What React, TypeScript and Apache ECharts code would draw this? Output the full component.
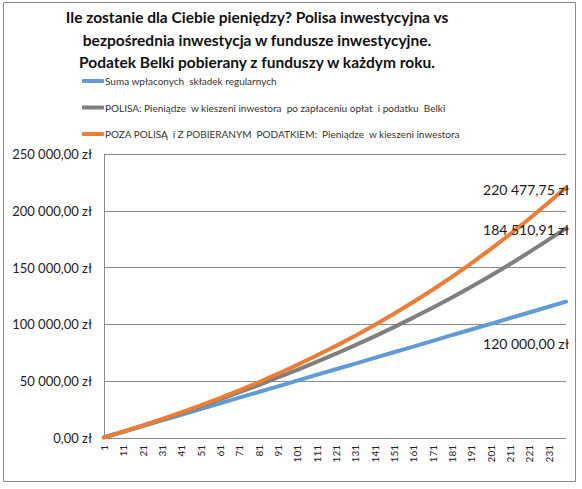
import React, { useEffect, useRef } from 'react';
import * as echarts from 'echarts';

// miesiące, w których odczytano wartości z wykresu
const months = [1, 11, 21, 31, 41, 51, 61, 71, 81, 91, 101, 111, 121, 131, 141, 151, 161, 171, 181, 191, 201, 211, 221, 231, 240];

// Suma wpłaconych składek regularnych
const paidIn = [500, 5500, 10500, 15500, 20500, 25500, 30500, 35500, 40500, 45500, 50500, 55500, 60500, 65500, 70500, 75500, 80500, 85500, 90500, 95500, 100500, 105500, 110500, 115500, 120000];

// POLISA
const policy = [500, 5600, 10800, 16300, 22000, 27900, 34000, 40400, 46600, 53300, 60000, 67000, 74200, 81700, 89500, 97600, 106000, 114700, 123700, 133100, 142900, 153000, 163600, 174600, 184510.91];

// POZA POLISĄ
const direct = [500, 5600, 11000, 16600, 22500, 28700, 35200, 42000, 49100, 56600, 64400, 72600, 81100, 90100, 99500, 109400, 119700, 130500, 141900, 153800, 166300, 179300, 193000, 207300, 220477.75];

const categories = Array.from({ length: 240 }, (_, i) => String(i + 1));

const seriesNames = [
  'Suma wpłaconych  składek regularnych',
  'POLISA: Pieniądze  w kieszeni inwestora  po zapłaceniu opłat  i podatku  Belki',
  'POZA POLISĄ  i Z POBIERANYM  PODATKIEM:  Pieniądze  w kieszeni inwestora',
];

const titleText = 'Ile zostanie dla Ciebie pieniędzy? Polisa inwestycyjna vs\nbezpośrednia inwestycja w fundusze inwestycyjne.\nPodatek Belki pobierany z funduszy w każdym roku.';

const font = 'Lato, "Open Sans", sans-serif';

function zl(v: number) {
  const [int, dec] = v.toFixed(2).split('.');
  return int.replace(/\B(?=(\d{3})+(?!\d))/g, ' ') + ',' + dec + ' zł';
}

function build(values: number[], offsetY: number) {
  return months.map((m, i) => {
    const item: any = { value: [m - 1, values[i]] };
    if (i === months.length - 1) {
      item.label = {
        show: true,
        position: 'left',
        distance: 0,
        offset: [3, offsetY],
        formatter: (p: any) => zl(p.value[1]),
        fontSize: 14,
        color: '#1a1a1a',
        fontFamily: font,
      };
    }
    return item;
  });
}

function App() {
  const chartRef = useRef(null);

  useEffect(() => {
    const chart = echarts.init(chartRef.current, null, { renderer: 'svg' });

    const line = (name: string, values: number[], color: string, offsetY: number) => ({
      name,
      type: 'line',
      data: build(values, offsetY),
      symbol: 'circle',
      symbolSize: 0,
      showSymbol: true,
      showAllSymbol: true,
      lineStyle: { width: 4, color, cap: 'round' },
      itemStyle: { color },
    });

    const options = {
      animation: false,
      backgroundColor: '#ffffff',
      graphic: [
        {
          type: 'rect',
          shape: { x: 3.5, y: 2.5, width: 572, height: 479 },
          style: { fill: 'none', stroke: '#8a8a8a', lineWidth: 1 },
        },
        {
          type: 'text',
          x: 257,
          y: 6,
          style: {
            text: titleText,
            align: 'center',
            fontFamily: font,
            fontWeight: 'bold',
            fontSize: 15.5,
            lineHeight: 22.5,
            fill: '#111',
          },
        },
      ],
      legend: {
        orient: 'vertical',
        left: 77,
        top: 70,
        icon: 'roundRect',
        itemWidth: 22,
        itemHeight: 4,
        itemGap: 14.5,
        data: seriesNames,
        textStyle: { fontSize: 10, lineHeight: 12, color: '#333', fontFamily: font, padding: [0, 0, 0, -4] },
      },
      grid: { left: 104, right: 16, top: 154, bottom: 51, outerBoundsMode: 'none' },
      xAxis: {
        type: 'category',
        data: categories,
        boundaryGap: false,
        axisLine: { lineStyle: { color: '#8a8a8a' } },
        axisTick: { show: false },
        axisLabel: { interval: 9, rotate: 90, margin: 7, fontSize: 10, color: '#222', fontFamily: font },
        splitLine: { show: false },
      },
      yAxis: {
        type: 'value',
        min: 0,
        max: 250000,
        interval: 50000,
        axisLine: { show: true, lineStyle: { color: '#8a8a8a' } },
        axisTick: { show: false },
        axisLabel: { formatter: (v: number) => zl(v), fontSize: 13, margin: 12, color: '#222', fontFamily: font },
        splitLine: { lineStyle: { color: '#8a8a8a' } },
      },
      series: [
        line(seriesNames[0], paidIn, '#5f9bd6', 42),
        line(seriesNames[1], policy, '#7f7f7f', 1),
        line(seriesNames[2], direct, '#ee7d33', 2),
      ],
    };

    chart.setOption(options);

    return () => {
      chart.dispose();
    };
  }, []);

  return <div ref={chartRef} style={{ position: 'absolute', left: 0, top: 0, width: '582px', height: '489px' }}></div>;
}

export default App;
